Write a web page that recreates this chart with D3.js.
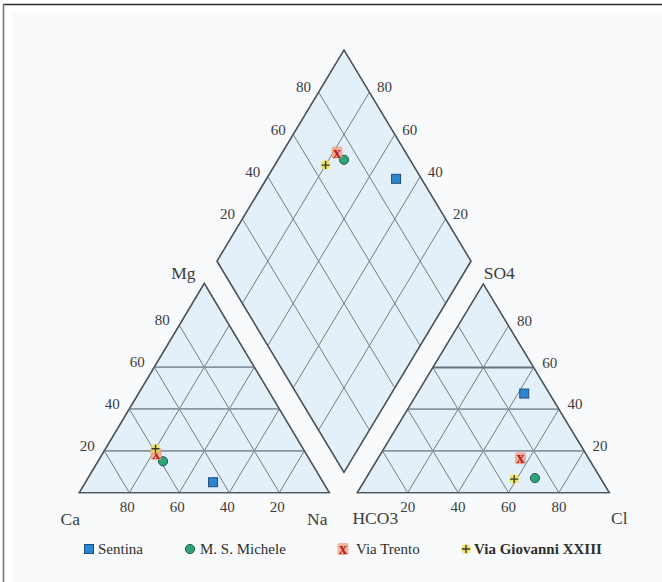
<!DOCTYPE html>
<html>
<head>
<meta charset="utf-8">
<script src="https://cdn.jsdelivr.net/npm/d3@7"></script>
<style>
  html, body { margin: 0; padding: 0; background: #fff; }
  svg { display: block; }
  text { font-family: "Liberation Serif", "DejaVu Serif", serif; fill: #3c3c3c; }
</style>
</head>
<body>
<svg id="chart" width="662" height="582"></svg>
<script>
// Sample names and ionic composition (% meq/l)
const samples = ["Sentina", "M. S. Michele", "Via Trento", "Via Giovanni XXIII"];
const caPct   = [44, 59, 60, 59];
const mgPct   = [5, 15, 18.5, 21];
const naPct   = [51, 26, 21.5, 20];
const hco3Pct = [10, 26, 27, 34.5];
const so4Pct  = [47.5, 7, 16.5, 6.5];
const clPct   = [42.5, 67, 56.5, 59];

// Grid steps and their labels
const gridSteps  = [20, 40, 60, 80];
const tickLabels = ["20", "40", "60", "80"];
// Horizontal guide lines drawn in the triangles
const cationLevels = [20, 40, 60];
const anionLevels  = [20, 40, 60];

const svg = d3.select("#chart");

// ---- frame ----
svg.append("rect").attr("x", 12).attr("y", 13).attr("width", 650).attr("height", 569).attr("fill", "#f8fafc");
svg.append("line").attr("x1", 3).attr("x2", 662).attr("y1", 4.5).attr("y2", 4.5)
  .attr("stroke", "#2a2a2a").attr("stroke-width", 1.6);
svg.append("line").attr("x1", 3.5).attr("x2", 3.5).attr("y1", 4).attr("y2", 582)
  .attr("stroke", "#777").attr("stroke-width", 1.6);

// ---- ternary helpers ----
function ternary(x0, x1, baseY, topY) {
  const sx = d3.scaleLinear().domain([0, 100]).range([x0, x1]);
  const sy = d3.scaleLinear().domain([0, 100]).range([baseY, topY]);
  // right: component at the right corner, top: component at the apex
  return (right, top) => [sx(right + top / 2), sy(top)];
}
const cat = ternary(79.3, 329.3, 492.7, 283.3);   // (Na, Mg)
const an  = ternary(357.3, 609.3, 492.7, 284);    // (Cl, SO4)

const dX = d3.scaleLinear().domain([-100, 100]).range([344 - 127, 344 + 127]);
const dY = d3.scaleLinear().domain([0, 200]).range([472.3, 50]);
// p = Ca+Mg, q = SO4+Cl
const dia = (p, q) => [dX(q - p), dY(p + q)];

const fillCol = "#e3f0f9";
const edgeCol = "#50565c";
const gridCol = "#737c86";

const line = d3.line();
const g = svg.append("g");

function poly(pts) {
  g.append("path").attr("d", line(pts) + "Z")
    .attr("fill", fillCol).attr("stroke", edgeCol).attr("stroke-width", 1.3)
    .attr("stroke-linejoin", "miter");
}
function seg(a, b, col, w) {
  g.append("path").attr("d", line([a, b])).attr("stroke", col).attr("stroke-width", w).attr("fill", "none");
}

// shapes
poly([cat(0, 0), cat(100, 0), cat(0, 100)]);
poly([an(0, 0), an(100, 0), an(0, 100)]);
poly([dia(0, 0), dia(100, 0), dia(100, 100), dia(0, 100)]);

// grid lines
gridSteps.forEach(v => {
  // cations
  seg(cat(0, 100 - v), cat(100 - v, 0), gridCol, 1);    // constant Ca
  seg(cat(v, 0), cat(v, 100 - v), gridCol, 1);          // constant Na
  // anions
  seg(an(0, 100 - v), an(100 - v, 0), gridCol, 1);      // constant HCO3
  seg(an(v, 0), an(v, 100 - v), gridCol, 1);            // constant Cl
  // diamond
  seg(dia(v, 0), dia(v, 100), gridCol, 1);
  seg(dia(0, v), dia(100, v), gridCol, 1);
});
cationLevels.forEach(v => seg(cat(0, v), cat(100 - v, v), "#8796a4", 1.8));
anionLevels.forEach(v => seg(an(0, v), an(100 - v, v), v === 60 ? "#66727d" : "#8796a4", v === 60 ? 2 : 1.7));

// re-stroke outlines over grid
[[cat(0, 0), cat(100, 0), cat(0, 100)],
 [an(0, 0), an(100, 0), an(0, 100)],
 [dia(0, 0), dia(100, 0), dia(100, 100), dia(0, 100)]].forEach(pts => {
  g.append("path").attr("d", line(pts) + "Z").attr("fill", "none")
    .attr("stroke", edgeCol).attr("stroke-width", 1.3);
});

// ---- tick labels ----
const lab = svg.append("g").attr("font-size", 15).attr("text-anchor", "middle");
function label(pt, dx, dy, txt, size) {
  const t = lab.append("text").attr("x", pt[0] + dx).attr("y", pt[1] + dy)
    .attr("dy", "0.35em").text(txt);
  if (size) t.attr("font-size", size);
  return t;
}
gridSteps.forEach((v, i) => {
  label(cat(0, v), -17, -5, tickLabels[i]);             // Mg
  label(cat(100 - v, 0), -2, 14, tickLabels[i]);        // Ca
  label(an(100 - v, v), 16, -5, tickLabels[i]);         // SO4
  label(an(v, 0), 0, 14, tickLabels[i]);                // Cl
  label(dia(100, v), -15, -5, tickLabels[i]);           // SO4+Cl
  label(dia(v, 100), 15, -5, tickLabels[i]);            // Ca+Mg
});

// corner labels
label(cat(0, 100), -21, -10, "Mg", 17.5);
label(cat(0, 0), -9, 26, "Ca", 17.5);
label(cat(100, 0), -12, 26, "Na", 17.5);
label(an(0, 100), 16, -11, "SO4", 17.5);
label(an(0, 0), 18, 25, "HCO3", 17.5);
label(an(100, 0), 10, 25, "Cl", 17.5);

// ---- markers ----
const markerLayer = svg.append("g");
function drawMarker(sel, kind, x, y) {
  if (kind === 0) {
    sel.append("rect").attr("x", x - 4.5).attr("y", y - 4.5).attr("width", 9).attr("height", 9)
      .attr("fill", "#2b86cf").attr("stroke", "#1b4f7c").attr("stroke-width", 1);
  } else if (kind === 1) {
    sel.append("circle").attr("cx", x).attr("cy", y).attr("r", 4.6)
      .attr("fill", "#2ea47b").attr("stroke", "#1d5b44").attr("stroke-width", 1);
  } else if (kind === 2) {
    sel.append("rect").attr("x", x - 5.5).attr("y", y - 6).attr("width", 11).attr("height", 12)
      .attr("fill", "#f29a7d").attr("opacity", 0.75).attr("rx", 2);
    sel.append("text").attr("x", x).attr("y", y).attr("dy", "0.32em").attr("text-anchor", "middle")
      .attr("font-size", 16).attr("font-weight", "bold").style("fill", "#b5231a").text("x");
  } else {
    sel.append("circle").attr("cx", x).attr("cy", y).attr("r", 5)
      .attr("fill", "#f1e35c").attr("opacity", 0.85);
    sel.append("path").attr("d", `M${x - 4},${y}H${x + 4}M${x},${y - 4}V${y + 4}`)
      .attr("stroke", "#3a3a2a").attr("stroke-width", 1.4);
  }
}
samples.forEach((s, i) => {
  const c = cat(naPct[i], mgPct[i]);
  const a = an(clPct[i], so4Pct[i]);
  const d = dia(100 - naPct[i], 100 - hco3Pct[i]);
  [c, a, d].forEach(pt => drawMarker(markerLayer, i, pt[0], pt[1]));
});

// ---- legend ----
const legendX = [89, 190, 343, 466];
const legendTextX = [98, 200, 356, 474];
const legendY = 549;
const legend = svg.append("g");
samples.forEach((s, i) => {
  drawMarker(legend, i, legendX[i], legendY);
  const t = legend.append("text").attr("x", legendTextX[i]).attr("y", legendY).attr("dy", "0.35em")
    .attr("font-size", 15).style("fill", "#2e2e2e").text(s);
  if (i === 3) t.attr("font-weight", "bold");
});
</script>
</body>
</html>
